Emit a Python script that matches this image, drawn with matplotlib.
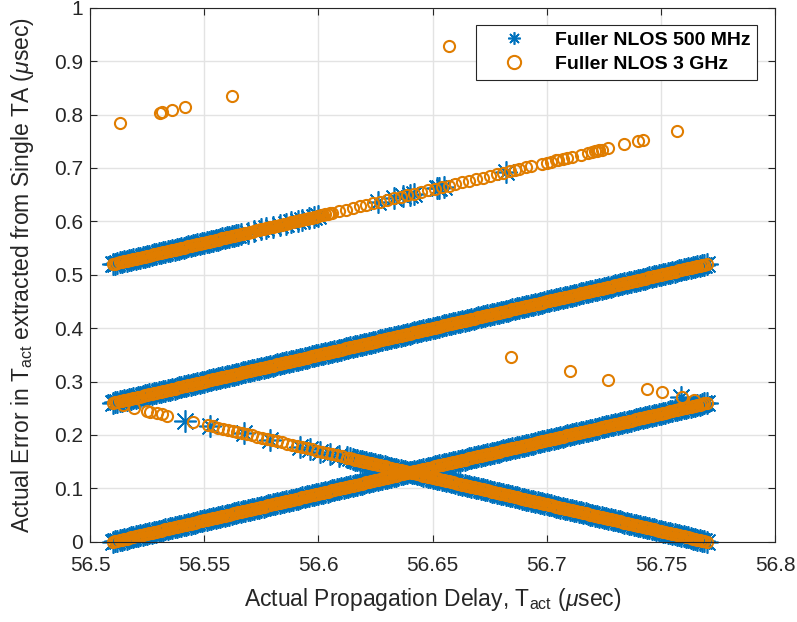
import matplotlib
matplotlib.use('Agg')
import matplotlib.pyplot as plt

# dense rising segments share the same delay samples (usec)
x_rise = [
    56.510, 56.512, 56.514, 56.516, 56.518, 56.520, 56.522, 56.524, 56.526, 56.528,
    56.530, 56.532, 56.534, 56.536, 56.538, 56.540, 56.542, 56.544, 56.546, 56.548,
    56.550, 56.552, 56.554, 56.556, 56.558, 56.560, 56.562, 56.564, 56.566, 56.568,
    56.570, 56.572, 56.574, 56.576, 56.578, 56.580, 56.582, 56.584, 56.586, 56.588,
    56.590, 56.592, 56.594, 56.596, 56.598, 56.600, 56.602, 56.604, 56.606, 56.608,
    56.610, 56.612, 56.614, 56.616, 56.618, 56.620, 56.622, 56.624, 56.626, 56.628,
    56.630, 56.632, 56.634, 56.636, 56.638, 56.640, 56.642, 56.644, 56.646, 56.648,
    56.650, 56.652, 56.654, 56.656, 56.658, 56.660, 56.662, 56.664, 56.666, 56.668,
    56.670, 56.672, 56.674, 56.676, 56.678, 56.680, 56.682, 56.684, 56.686, 56.688,
    56.690, 56.692, 56.694, 56.696, 56.698, 56.700, 56.702, 56.704, 56.706, 56.708,
    56.710, 56.712, 56.714, 56.716, 56.718, 56.720, 56.722, 56.724, 56.726, 56.728,
    56.730, 56.732, 56.734, 56.736, 56.738, 56.740, 56.742, 56.744, 56.746, 56.748,
    56.750, 56.752, 56.754, 56.756, 56.758, 56.760, 56.762, 56.764, 56.766, 56.768,
    56.770]
# samples in between the ones above
x_rise_b = [
    56.511, 56.513, 56.515, 56.517, 56.519, 56.521, 56.523, 56.525, 56.527, 56.529,
    56.531, 56.533, 56.535, 56.537, 56.539, 56.541, 56.543, 56.545, 56.547, 56.549,
    56.551, 56.553, 56.555, 56.557, 56.559, 56.561, 56.563, 56.565, 56.567, 56.569,
    56.571, 56.573, 56.575, 56.577, 56.579, 56.581, 56.583, 56.585, 56.587, 56.589,
    56.591, 56.593, 56.595, 56.597, 56.599, 56.601, 56.603, 56.605, 56.607, 56.609,
    56.611, 56.613, 56.615, 56.617, 56.619, 56.621, 56.623, 56.625, 56.627, 56.629,
    56.631, 56.633, 56.635, 56.637, 56.639, 56.641, 56.643, 56.645, 56.647, 56.649,
    56.651, 56.653, 56.655, 56.657, 56.659, 56.661, 56.663, 56.665, 56.667, 56.669,
    56.671, 56.673, 56.675, 56.677, 56.679, 56.681, 56.683, 56.685, 56.687, 56.689,
    56.691, 56.693, 56.695, 56.697, 56.699, 56.701, 56.703, 56.705, 56.707, 56.709,
    56.711, 56.713, 56.715, 56.717, 56.719, 56.721, 56.723, 56.725, 56.727, 56.729,
    56.731, 56.733, 56.735, 56.737, 56.739, 56.741, 56.743, 56.745, 56.747, 56.749,
    56.751, 56.753, 56.755, 56.757, 56.759, 56.761, 56.763, 56.765, 56.767, 56.769]

err_low = [
    0.000, 0.002, 0.004, 0.006, 0.008, 0.010, 0.012, 0.014, 0.016, 0.018,
    0.020, 0.022, 0.024, 0.026, 0.028, 0.030, 0.032, 0.034, 0.036, 0.038,
    0.040, 0.042, 0.044, 0.046, 0.048, 0.050, 0.052, 0.054, 0.056, 0.058,
    0.060, 0.062, 0.064, 0.066, 0.068, 0.070, 0.072, 0.074, 0.076, 0.078,
    0.080, 0.082, 0.084, 0.086, 0.088, 0.090, 0.092, 0.094, 0.096, 0.098,
    0.100, 0.102, 0.104, 0.106, 0.108, 0.110, 0.112, 0.114, 0.116, 0.118,
    0.120, 0.122, 0.124, 0.126, 0.128, 0.130, 0.132, 0.134, 0.136, 0.138,
    0.140, 0.142, 0.144, 0.146, 0.148, 0.150, 0.152, 0.154, 0.156, 0.158,
    0.160, 0.162, 0.164, 0.166, 0.168, 0.170, 0.172, 0.174, 0.176, 0.178,
    0.180, 0.182, 0.184, 0.186, 0.188, 0.190, 0.192, 0.194, 0.196, 0.198,
    0.200, 0.202, 0.204, 0.206, 0.208, 0.210, 0.212, 0.214, 0.216, 0.218,
    0.220, 0.222, 0.224, 0.226, 0.228, 0.230, 0.232, 0.234, 0.236, 0.238,
    0.240, 0.242, 0.244, 0.246, 0.248, 0.250, 0.252, 0.254, 0.256, 0.258,
    0.260]
err_low_b = [
    0.001, 0.003, 0.005, 0.007, 0.009, 0.011, 0.013, 0.015, 0.017, 0.019,
    0.021, 0.023, 0.025, 0.027, 0.029, 0.031, 0.033, 0.035, 0.037, 0.039,
    0.041, 0.043, 0.045, 0.047, 0.049, 0.051, 0.053, 0.055, 0.057, 0.059,
    0.061, 0.063, 0.065, 0.067, 0.069, 0.071, 0.073, 0.075, 0.077, 0.079,
    0.081, 0.083, 0.085, 0.087, 0.089, 0.091, 0.093, 0.095, 0.097, 0.099,
    0.101, 0.103, 0.105, 0.107, 0.109, 0.111, 0.113, 0.115, 0.117, 0.119,
    0.121, 0.123, 0.125, 0.127, 0.129, 0.131, 0.133, 0.135, 0.137, 0.139,
    0.141, 0.143, 0.145, 0.147, 0.149, 0.151, 0.153, 0.155, 0.157, 0.159,
    0.161, 0.163, 0.165, 0.167, 0.169, 0.171, 0.173, 0.175, 0.177, 0.179,
    0.181, 0.183, 0.185, 0.187, 0.189, 0.191, 0.193, 0.195, 0.197, 0.199,
    0.201, 0.203, 0.205, 0.207, 0.209, 0.211, 0.213, 0.215, 0.217, 0.219,
    0.221, 0.223, 0.225, 0.227, 0.229, 0.231, 0.233, 0.235, 0.237, 0.239,
    0.241, 0.243, 0.245, 0.247, 0.249, 0.251, 0.253, 0.255, 0.257, 0.259]

err_mid = [
    0.260, 0.262, 0.264, 0.266, 0.268, 0.270, 0.272, 0.274, 0.276, 0.278,
    0.280, 0.282, 0.284, 0.286, 0.288, 0.290, 0.292, 0.294, 0.296, 0.298,
    0.300, 0.302, 0.304, 0.306, 0.308, 0.310, 0.312, 0.314, 0.316, 0.318,
    0.320, 0.322, 0.324, 0.326, 0.328, 0.330, 0.332, 0.334, 0.336, 0.338,
    0.340, 0.342, 0.344, 0.346, 0.348, 0.350, 0.352, 0.354, 0.356, 0.358,
    0.360, 0.362, 0.364, 0.366, 0.368, 0.370, 0.372, 0.374, 0.376, 0.378,
    0.380, 0.382, 0.384, 0.386, 0.388, 0.390, 0.392, 0.394, 0.396, 0.398,
    0.400, 0.402, 0.404, 0.406, 0.408, 0.410, 0.412, 0.414, 0.416, 0.418,
    0.420, 0.422, 0.424, 0.426, 0.428, 0.430, 0.432, 0.434, 0.436, 0.438,
    0.440, 0.442, 0.444, 0.446, 0.448, 0.450, 0.452, 0.454, 0.456, 0.458,
    0.460, 0.462, 0.464, 0.466, 0.468, 0.470, 0.472, 0.474, 0.476, 0.478,
    0.480, 0.482, 0.484, 0.486, 0.488, 0.490, 0.492, 0.494, 0.496, 0.498,
    0.500, 0.502, 0.504, 0.506, 0.508, 0.510, 0.512, 0.514, 0.516, 0.518,
    0.520]
err_mid_b = [
    0.261, 0.263, 0.265, 0.267, 0.269, 0.271, 0.273, 0.275, 0.277, 0.279,
    0.281, 0.283, 0.285, 0.287, 0.289, 0.291, 0.293, 0.295, 0.297, 0.299,
    0.301, 0.303, 0.305, 0.307, 0.309, 0.311, 0.313, 0.315, 0.317, 0.319,
    0.321, 0.323, 0.325, 0.327, 0.329, 0.331, 0.333, 0.335, 0.337, 0.339,
    0.341, 0.343, 0.345, 0.347, 0.349, 0.351, 0.353, 0.355, 0.357, 0.359,
    0.361, 0.363, 0.365, 0.367, 0.369, 0.371, 0.373, 0.375, 0.377, 0.379,
    0.381, 0.383, 0.385, 0.387, 0.389, 0.391, 0.393, 0.395, 0.397, 0.399,
    0.401, 0.403, 0.405, 0.407, 0.409, 0.411, 0.413, 0.415, 0.417, 0.419,
    0.421, 0.423, 0.425, 0.427, 0.429, 0.431, 0.433, 0.435, 0.437, 0.439,
    0.441, 0.443, 0.445, 0.447, 0.449, 0.451, 0.453, 0.455, 0.457, 0.459,
    0.461, 0.463, 0.465, 0.467, 0.469, 0.471, 0.473, 0.475, 0.477, 0.479,
    0.481, 0.483, 0.485, 0.487, 0.489, 0.491, 0.493, 0.495, 0.497, 0.499,
    0.501, 0.503, 0.505, 0.507, 0.509, 0.511, 0.513, 0.515, 0.517, 0.519]

# upper rising segment, dense part (x = x_rise[:49] / x_rise_b[:48])
err_top = [
    0.520, 0.522, 0.524, 0.526, 0.528, 0.530, 0.532, 0.534, 0.536, 0.538,
    0.540, 0.542, 0.544, 0.546, 0.548, 0.550, 0.552, 0.554, 0.556, 0.558,
    0.560, 0.562, 0.564, 0.566, 0.568, 0.570, 0.572, 0.574, 0.576, 0.578,
    0.580, 0.582, 0.584, 0.586, 0.588, 0.590, 0.592, 0.594, 0.596, 0.598,
    0.600, 0.602, 0.604, 0.606, 0.608, 0.610, 0.612, 0.614, 0.616]
err_top_b = [
    0.521, 0.523, 0.525, 0.527, 0.529, 0.531, 0.533, 0.535, 0.537, 0.539,
    0.541, 0.543, 0.545, 0.547, 0.549, 0.551, 0.553, 0.555, 0.557, 0.559,
    0.561, 0.563, 0.565, 0.567, 0.569, 0.571, 0.573, 0.575, 0.577, 0.579,
    0.581, 0.583, 0.585, 0.587, 0.589, 0.591, 0.593, 0.595, 0.597, 0.599,
    0.601, 0.603, 0.605, 0.607, 0.609, 0.611, 0.613, 0.615]

# 500 MHz sparse points
mhz_top_x = [56.569, 56.572, 56.575, 56.577, 56.580, 56.583, 56.586, 56.588, 56.591,
             56.593, 56.596, 56.598, 56.600, 56.626, 56.633, 56.637, 56.640, 56.642,
             56.652, 56.653, 56.655, 56.682]
mhz_top_y = [0.579, 0.582, 0.585, 0.587, 0.590, 0.593, 0.596, 0.598, 0.601,
             0.603, 0.606, 0.608, 0.610, 0.636, 0.643, 0.647, 0.650, 0.652,
             0.662, 0.663, 0.665, 0.692]
mhz_fall_x = [56.5416, 56.5526, 56.5672, 56.5788, 56.5920, 56.5964, 56.6007, 56.6051,
              56.6090, 56.6124]
mhz_fall_y = [0.227, 0.217, 0.203, 0.191, 0.178, 0.174, 0.169, 0.165, 0.161, 0.158]
mhz_odd_x = [56.759]
mhz_odd_y = [0.271]

# 3 GHz sparse points
ghz_top_x = [56.609, 56.612, 56.615, 56.618, 56.621, 56.624, 56.627, 56.630, 56.633,
             56.636, 56.639, 56.642, 56.645, 56.648, 56.651, 56.654, 56.657, 56.660,
             56.663, 56.666, 56.669, 56.672, 56.675, 56.678, 56.681, 56.684, 56.686,
             56.688, 56.691, 56.693, 56.698, 56.700, 56.702, 56.704, 56.705, 56.707,
             56.709, 56.711, 56.715, 56.718, 56.720, 56.721, 56.722, 56.723, 56.724,
             56.727, 56.734, 56.740, 56.742]
ghz_top_y = [0.619, 0.622, 0.625, 0.628, 0.631, 0.634, 0.637, 0.640, 0.643,
             0.646, 0.649, 0.652, 0.655, 0.658, 0.661, 0.664, 0.667, 0.670,
             0.673, 0.676, 0.679, 0.682, 0.685, 0.688, 0.691, 0.694, 0.696,
             0.698, 0.701, 0.703, 0.708, 0.710, 0.712, 0.714, 0.715, 0.717,
             0.719, 0.721, 0.725, 0.728, 0.730, 0.731, 0.732, 0.733, 0.734,
             0.737, 0.744, 0.750, 0.752]
ghz_fall_x = [56.5143, 56.5194, 56.5248, 56.5263, 56.5295, 56.5314, 56.5336, 56.5453,
              56.5518, 56.5540, 56.5562, 56.5584, 56.5606, 56.5628, 56.5642, 56.5664,
              56.5686, 56.5708, 56.5730, 56.5752, 56.5774, 56.5796, 56.5818, 56.5840,
              56.5862, 56.5884, 56.5905, 56.5927, 56.5949, 56.5971, 56.5993, 56.6015,
              56.6037, 56.6059, 56.6081, 56.6102, 56.6124]
ghz_fall_y = [0.2557, 0.2506, 0.2452, 0.2437, 0.2405, 0.2386, 0.2364, 0.2247,
              0.2182, 0.2160, 0.2138, 0.2116, 0.2094, 0.2072, 0.2058, 0.2036,
              0.2014, 0.1992, 0.1970, 0.1948, 0.1926, 0.1904, 0.1882, 0.1860,
              0.1838, 0.1816, 0.1795, 0.1773, 0.1751, 0.1729, 0.1707, 0.1685,
              0.1663, 0.1641, 0.1619, 0.1598, 0.1576]
ghz_out_x = [56.513, 56.5307, 56.5315, 56.536, 56.5415, 56.562, 56.657, 56.757,
             56.6844, 56.710, 56.7268, 56.7441, 56.7504, 56.7591, 56.7643]
ghz_out_y = [0.785, 0.803, 0.804, 0.809, 0.814, 0.835, 0.929, 0.769,
             0.346, 0.320, 0.303, 0.286, 0.280, 0.271, 0.266]

# falling dense segment reuses the rising samples (x from 56.614, error 0.156 -> 0)
fall_x = x_rise[52:] + x_rise_b[52:]
fall_y = err_low[78::-1] + err_low_b[77::-1]

rise_x = x_rise + x_rise_b + x_rise + x_rise_b
rise_y = err_low + err_low_b + err_mid + err_mid_b

mhz_x = rise_x + x_rise[:29] + x_rise_b[:28] + mhz_top_x + fall_x + mhz_fall_x + mhz_odd_x
mhz_y = rise_y + err_top[:29] + err_top_b[:28] + mhz_top_y + fall_y + mhz_fall_y + mhz_odd_y
ghz_x = rise_x + x_rise[:49] + x_rise_b[:48] + ghz_top_x + fall_x + ghz_fall_x + ghz_out_x
ghz_y = rise_y + err_top + err_top_b + ghz_top_y + fall_y + ghz_fall_y + ghz_out_y

plt.rcParams['font.family'] = ['Liberation Sans', 'DejaVu Sans']
plt.rcParams['mathtext.fontset'] = 'custom'
plt.rcParams['mathtext.rm'] = 'Liberation Sans'
plt.rcParams['mathtext.it'] = 'Liberation Sans:italic'

blue = '#0072BD'
orange = '#E07D00'
dark = '#262626'

fig = plt.figure(figsize=(7.97, 6.22), dpi=100)
ax = fig.add_axes([0.113, 0.129, 0.8595, 0.8585])

# markers are not clipped at the axes edge (like the reference)
ax.plot(mhz_x, mhz_y, linestyle='none', marker=(8, 2, 0), markersize=16,
        markeredgewidth=1.2, color=blue, label='Fuller NLOS 500 MHz', clip_on=False)
ax.plot(ghz_x, ghz_y, linestyle='none', marker='o', markersize=8,
        markeredgewidth=1.5, markerfacecolor='none', color=orange,
        label='Fuller NLOS 3 GHz', clip_on=False)

ax.set_xlim(56.5, 56.8)
ax.set_ylim(0, 1)
ax.set_xticks([56.5, 56.55, 56.6, 56.65, 56.7, 56.75, 56.8])
ax.set_xticklabels(['56.5', '56.55', '56.6', '56.65', '56.7', '56.75', '56.8'])
ax.set_yticks([0, 0.1, 0.2, 0.3, 0.4, 0.5, 0.6, 0.7, 0.8, 0.9, 1])
ax.set_yticklabels(['0', '0.1', '0.2', '0.3', '0.4', '0.5', '0.6', '0.7', '0.8', '0.9', '1'])
ax.tick_params(direction='in', top=True, right=True, length=5, width=0.8,
               labelsize=15, colors=dark)
ax.tick_params(axis='x', pad=10)
ax.tick_params(axis='y', pad=5)
ax.grid(True, color='#e3e3e3', linewidth=1.0)
ax.set_axisbelow(True)
for s in ax.spines.values():
    s.set_color(dark)
    s.set_linewidth(0.8)

ax.set_xlabel(r'Actual Propagation Delay, T$_{\mathrm{act}}$ ($\mu$sec)', fontsize=16.5,
              color=dark, labelpad=8)
ax.set_ylabel(r'Actual Error in T$_{\mathrm{act}}$ extracted from Single TA ($\mu$sec)',
              fontsize=16.5, color=dark, labelpad=13)

leg = ax.legend(loc='upper right', bbox_to_anchor=(0.974, 0.968), borderaxespad=0,
                fancybox=False, edgecolor=dark, framealpha=1, handlelength=3.2,
                handletextpad=0.5, borderpad=0.35, labelspacing=0.3,
                prop={'weight': 'bold', 'size': 14})
leg.get_frame().set_linewidth(0.8)
leg.legend_handles[0].set_markersize(9)
leg.legend_handles[1].set_markersize(9.5)

plt.savefig('out.png', dpi=100)
plt.close()
